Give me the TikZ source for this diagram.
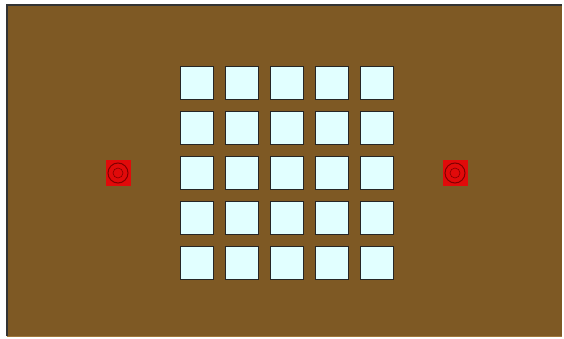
\documentclass[tikz,border=0pt]{standalone}
\definecolor{boardbrown}{RGB}{126,89,36}
\definecolor{edgebrown}{RGB}{160,120,60}
\definecolor{cellcyan}{RGB}{225,255,255}
\definecolor{markred}{RGB}{225,10,10}
\definecolor{ringred}{RGB}{130,0,0}
\begin{document}
\begin{tikzpicture}[x=1pt,y=-1pt,
  cell/.style={draw=black!85,line width=1pt,fill=cellcyan,minimum size=33pt,inner sep=0pt,outer sep=0pt},
  marker/.style={fill=markred,minimum size=25pt,inner sep=0pt,draw=none},
  ring/.style={draw=ringred,line width=1pt}]
\useasboundingbox (0,0) rectangle (564,339);
\fill[white] (0,0) rectangle (564,339);
\node[draw=none,fill=boardbrown,minimum width=555pt,minimum height=331pt,inner sep=0pt,anchor=north west] (board) at (7,5) {};
\draw[black!80,line width=1.2pt] (board.south west) -- (board.north west) -- (board.north east);
\draw[edgebrown,line width=1pt] (board.south west) -- (board.south east);
\foreach \c in {0,...,4}{
  \foreach \r in {0,...,4}{
    \node[cell] (c\c\r) at ({197+45*\c},{83+45*\r}) {};
  }
}
\node[marker] (mL) at (118,173) {};
\node[marker] (mR) at (455,173) {};
\draw[ring] (mL.center) circle (10);
\draw[ring,line width=0.6pt] (mL.center) circle (5);
\draw[ring] (mR.center) circle (10);
\draw[ring,line width=0.6pt] (mR.center) circle (5);
\end{tikzpicture}
\end{document}
